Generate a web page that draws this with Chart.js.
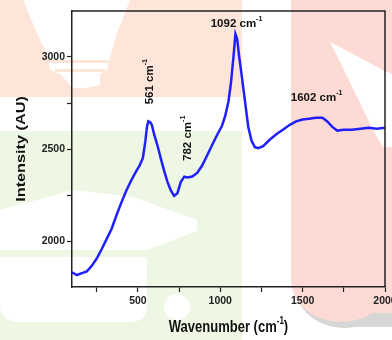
<!DOCTYPE html>
<html>
<head>
<meta charset="utf-8">
<script src="https://cdn.jsdelivr.net/npm/chart.js@4.4.1/dist/chart.umd.min.js"></script>
<style>
  html, body { margin: 0; padding: 0; background: #fff; }
</style>
</head>
<body>
<canvas id="ramanChart" width="392" height="340"></canvas>
<script>
// Raman spectrum
const wavenumber = [100, 130, 160, 190, 220, 250, 280, 310, 340, 370, 400, 430, 460, 490, 510, 530, 545, 555, 563, 575, 585, 600, 620, 640, 660, 680, 700, 720, 740, 760, 782, 800, 830, 860, 890, 920, 950, 980, 1010, 1030, 1050, 1065, 1080, 1092, 1102, 1115, 1130, 1150, 1170, 1190, 1210, 1230, 1260, 1300, 1340, 1380, 1420, 1460, 1500, 1540, 1580, 1620, 1650, 1680, 1710, 1750, 1800, 1850, 1900, 1950, 2000];
const intensity = [1830, 1815, 1825, 1835, 1865, 1905, 1955, 2010, 2065, 2140, 2210, 2275, 2330, 2380, 2410, 2450, 2540, 2620, 2650, 2645, 2630, 2575, 2515, 2445, 2380, 2320, 2275, 2245, 2260, 2320, 2350, 2345, 2350, 2370, 2410, 2465, 2520, 2575, 2625, 2680, 2760, 2860, 3000, 3125, 3100, 3000, 2900, 2760, 2620, 2545, 2510, 2505, 2515, 2550, 2580, 2605, 2630, 2650, 2660, 2665, 2670, 2670, 2650, 2620, 2600, 2605, 2605, 2610, 2615, 2610, 2615];

const xTicks = [250, 500, 750, 1000, 1250, 1500, 1750, 2000];
const yTicks = [2000, 2250, 2500, 2750, 3000];

// peak annotations (data coordinates of label centre)
const peakText = ['561 cm', '782 cm', '1092 cm', '1602 cm'];
const peakX = [573, 802, 1099, 1585];
const peakY = [2866, 2558, 3180, 2778];
const peakVertical = [true, true, false, false];

const FONT = '"Liberation Sans", Arial, sans-serif';

function poly(ctx, pts) {
    ctx.beginPath();
    pts.forEach((p, i) => i ? ctx.lineTo(p[0], p[1]) : ctx.moveTo(p[0], p[1]));
    ctx.closePath();
    ctx.fill();
}

// draws text parts (some superscript) centred on (0,0)
function drawSup(ctx, parts, size) {
    const supSize = size * 0.62;
    let total = 0;
    const widths = parts.map(p => {
        ctx.font = `bold ${p.sup ? supSize : size}px ${FONT}`;
        const w = ctx.measureText(p.t).width;
        total += w;
        return w;
    });
    let x = -total / 2;
    ctx.textAlign = 'left';
    ctx.textBaseline = 'middle';
    parts.forEach((p, i) => {
        ctx.font = `bold ${p.sup ? supSize : size}px ${FONT}`;
        ctx.fillText(p.t, x, p.sup ? -size * 0.42 : 0);
        x += widths[i];
    });
}

const backdrop = {
    id: 'backdrop',
    beforeDraw(chart) {
        const ctx = chart.ctx;
        ctx.save();
        // peach block top left
        ctx.fillStyle = '#fde6d9';
        ctx.fillRect(0, 0, 242, 97);
        ctx.fillStyle = '#fff';
        poly(ctx, [[23, 0], [130, 0], [117, 33], [110, 57], [107, 70], [100, 74], [100, 85], [87, 88], [73, 88], [60, 74], [50, 70], [48, 57], [37, 33]]);
        ctx.fillStyle = '#fde6d9';
        ctx.fillRect(45, 60, 68, 3);
        ctx.fillRect(55, 69, 50, 3);
        // green block lower left
        ctx.fillStyle = '#eef6e4';
        ctx.fillRect(0, 131, 242, 209);
        ctx.fillStyle = '#fff';
        poly(ctx, [[0, 210], [73, 190], [133, 197], [197, 220], [197, 231], [147, 250], [0, 250]]);
        ctx.beginPath();
        ctx.moveTo(0, 257);
        ctx.lineTo(147, 257);
        ctx.lineTo(147, 305);
        ctx.quadraticCurveTo(147, 322, 130, 322);
        ctx.lineTo(20, 322);
        ctx.quadraticCurveTo(0, 322, 0, 305);
        ctx.closePath();
        ctx.fill();
        ctx.beginPath();
        ctx.arc(177, 307, 13, 0, Math.PI * 2);
        ctx.fill();
        // pink block right, with grey shadow
        ctx.fillStyle = '#d6d6d6';
        ctx.beginPath();
        ctx.ellipse(344, 283, 50, 45, 0, 0, Math.PI);
        ctx.fill();
        ctx.fillRect(344, 283, 48, 44);
        ctx.fillStyle = '#fddbd4';
        ctx.fillRect(291, 0, 101, 280);
        ctx.beginPath();
        ctx.ellipse(341, 280, 50, 42, 0, 0, Math.PI);
        ctx.fill();
        ctx.fillRect(341, 280, 51, 33);
        ctx.fillStyle = '#fff';
        poly(ctx, [[330, 42], [383, 70], [392, 74], [392, 147], [383, 147], [372, 128], [360, 103], [345, 72]]);
        ctx.restore();
    },
    afterDraw(chart) {
        const ctx = chart.ctx;
        const a = chart.chartArea;
        const xs = chart.scales.x, ys = chart.scales.y;
        ctx.save();
        // frame top and right
        ctx.strokeStyle = '#222';
        ctx.lineWidth = 1.5;
        ctx.beginPath();
        ctx.moveTo(a.left, a.top);
        ctx.lineTo(a.right, a.top);
        ctx.lineTo(a.right, a.bottom);
        ctx.stroke();
        ctx.fillStyle = '#111';
        // peak labels
        peakText.forEach((t, i) => {
            ctx.save();
            ctx.translate(xs.getPixelForValue(peakX[i]), ys.getPixelForValue(peakY[i]));
            if (peakVertical[i]) ctx.rotate(-Math.PI / 2);
            drawSup(ctx, [{ t: t }, { t: '-1', sup: true }], 11.5);
            ctx.restore();
        });
        // axis titles (figure is slightly stretched vertically)
        ctx.save();
        ctx.translate((a.left + a.right) / 2, 328);
        ctx.scale(1, 1.25);
        drawSup(ctx, [{ t: 'Wavenumber (cm' }, { t: '-1', sup: true }, { t: ')' }], 13);
        ctx.restore();
        ctx.save();
        ctx.translate(21, (a.top + a.bottom) / 2);
        ctx.rotate(-Math.PI / 2);
        ctx.scale(1.25, 1);
        drawSup(ctx, [{ t: 'Intensity (AU)' }], 13);
        ctx.restore();
        ctx.restore();
    }
};

const ctx = document.getElementById('ramanChart').getContext('2d');

const chart = new Chart(ctx, {
    type: 'line',
    data: {
        datasets: [{
            data: wavenumber.map((w, i) => ({ x: w, y: intensity[i] })),
            borderColor: 'rgba(20, 20, 255, 0.95)',
            borderWidth: 2.5,
            pointRadius: 0,
            tension: 0,
            fill: false
        }]
    },
    options: {
        responsive: false,
        animation: false,
        layout: {
            padding: { left: 0, right: 7, top: 11, bottom: 0 }
        },
        plugins: {
            legend: { display: false },
            tooltip: { enabled: false }
        },
        scales: {
            x: {
                type: 'linear',
                min: 100,
                max: 2000,
                afterBuildTicks: scale => { scale.ticks = xTicks.map(v => ({ value: v })); },
                afterFit: scale => {
                    scale.height = 53;
                    scale.paddingLeft = 0;
                    scale.paddingRight = 0;
                },
                ticks: {
                    autoSkip: false,
                    maxRotation: 0,
                    padding: 3,
                    color: '#222',
                    font: { family: FONT, size: 10.5, weight: 'bold' },
                    callback: v => (v % 500 === 0 ? v : '')
                },
                grid: {
                    drawOnChartArea: false,
                    tickLength: 5,
                    tickColor: '#222',
                    tickWidth: 1.2
                },
                border: { color: '#222', width: 1.5 }
            },
            y: {
                min: 1750,
                max: 3250,
                afterBuildTicks: scale => { scale.ticks = yTicks.map(v => ({ value: v })); },
                afterFit: scale => {
                    scale.width = 72;
                    scale.paddingTop = 0;
                    scale.paddingBottom = 0;
                },
                ticks: {
                    padding: 2,
                    color: '#222',
                    font: { family: FONT, size: 10.5, weight: 'bold' },
                    callback: v => (v % 500 === 0 ? v : '')
                },
                grid: {
                    drawOnChartArea: false,
                    tickLength: 5,
                    tickColor: '#222',
                    tickWidth: 1.2
                },
                border: { color: '#222', width: 1.5 }
            }
        }
    },
    plugins: [backdrop]
});
</script>
</body>
</html>
